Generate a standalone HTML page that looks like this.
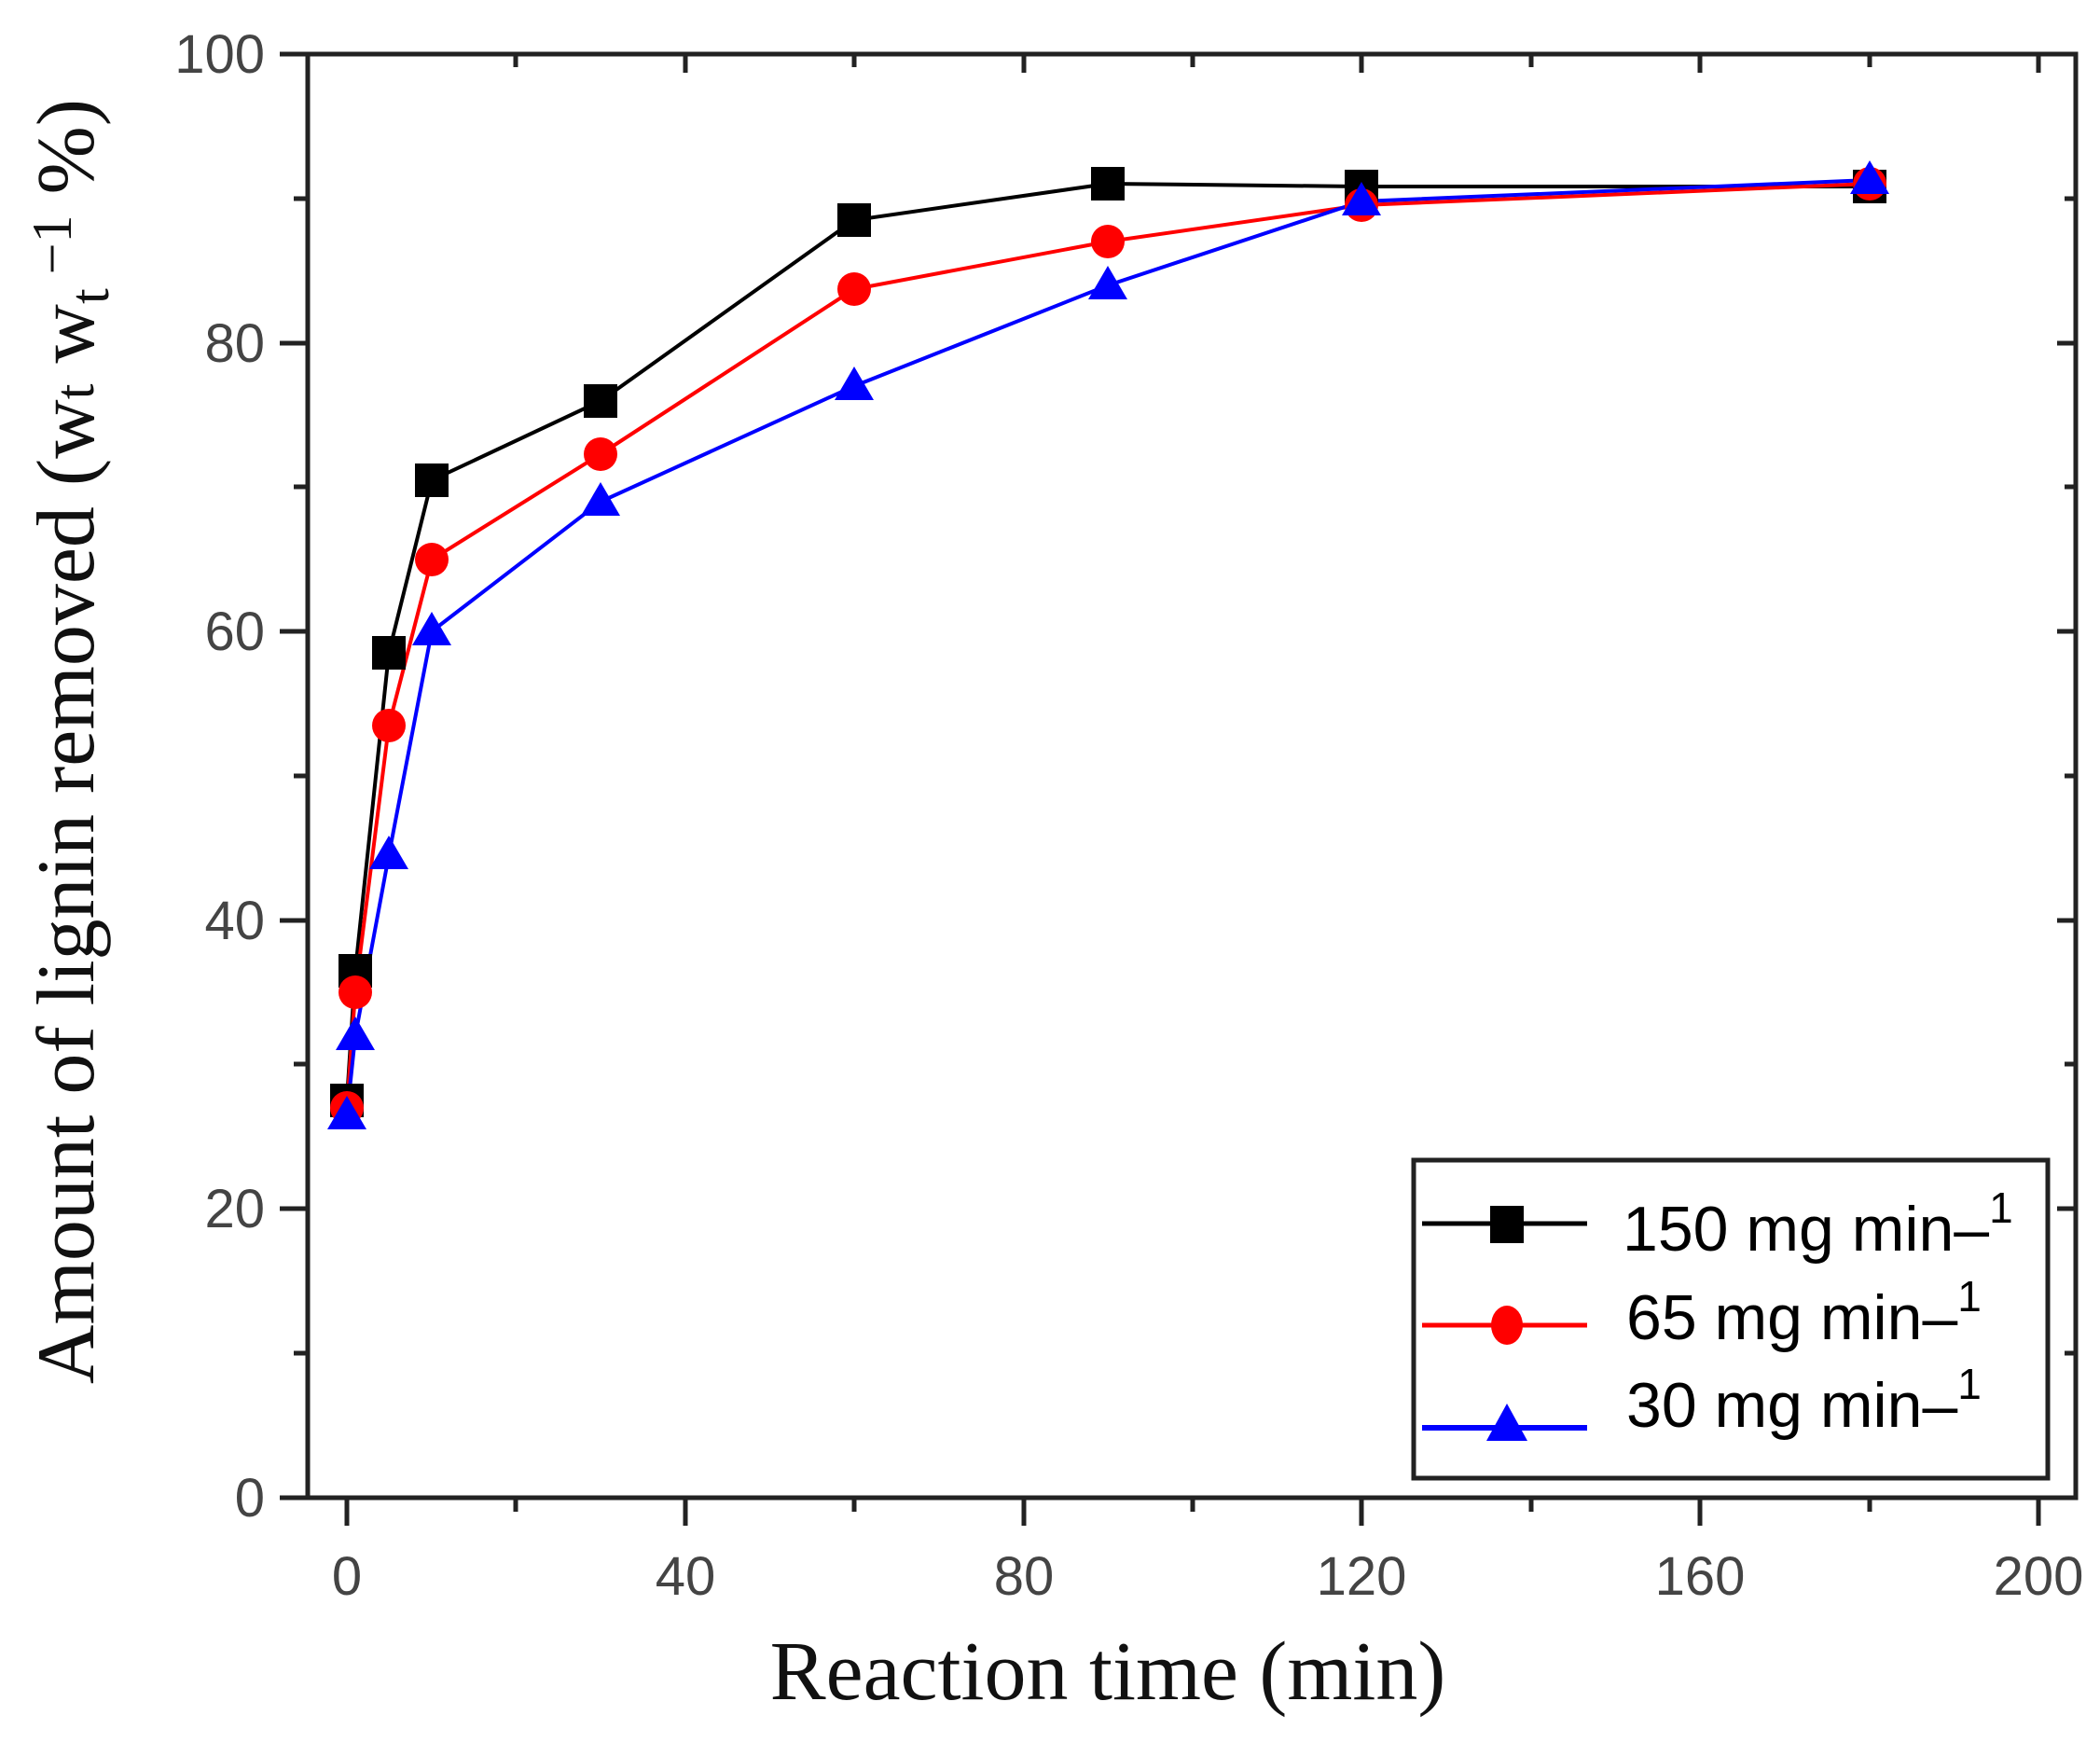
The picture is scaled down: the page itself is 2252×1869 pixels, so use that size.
<!DOCTYPE html>
<html><head><meta charset="utf-8"><style>html,body{margin:0;padding:0;background:#fff}svg{display:block}</style></head>
<body>
<svg width="2252" height="1869" viewBox="0 0 2252 1869" xmlns="http://www.w3.org/2000/svg">
<rect width="2252" height="1869" fill="#fff"/>
<g stroke="#222" stroke-width="5" fill="none">
<rect x="330" y="58" width="1896" height="1548"/>
<path d="M300 58H330M300 368H330M300 677H330M300 987H330M300 1296H330M300 1606H330"/>
<path d="M315 213H330M315 522H330M315 832H330M315 1141H330M315 1451H330"/>
<path d="M2226 368H2206M2226 677H2206M2226 987H2206M2226 1296H2206M2226 213H2214M2226 522H2214M2226 832H2214M2226 1141H2214M2226 1451H2214"/>
<path d="M372 1606V1636M735 1606V1636M1098 1606V1636M1460 1606V1636M1823 1606V1636M2186 1606V1636"/>
<path d="M553 1606V1621M916 1606V1621M1279 1606V1621M1642 1606V1621M2005 1606V1621"/>
<path d="M553 58V72M735 58V78M916 58V72M1098 58V78M1279 58V72M1460 58V78M1642 58V72M1823 58V78M2005 58V72M2186 58V78"/>
</g>
<g font-family="Liberation Sans, sans-serif" font-size="58" fill="#444" text-anchor="end">
<text x="284" y="78">100</text><text x="284" y="388">80</text><text x="284" y="697">60</text><text x="284" y="1007">40</text><text x="284" y="1316">20</text><text x="284" y="1626">0</text>
</g>
<g font-family="Liberation Sans, sans-serif" font-size="58" fill="#444" text-anchor="middle">
<text x="372" y="1710">0</text><text x="735" y="1710">40</text><text x="1098" y="1710">80</text><text x="1460" y="1710">120</text><text x="1823" y="1710">160</text><text x="2186" y="1710">200</text>
</g>
<text x="1188" y="1822" font-family="Liberation Serif, serif" font-size="90" fill="#111" text-anchor="middle">Reaction time (min)</text>
<text transform="translate(100,795) rotate(-90)" font-family="Liberation Serif, serif" font-size="88" fill="#111" text-anchor="middle">Amount of lignin removed (w<tspan font-size="60">t</tspan> w<tspan font-size="60" dy="16">t</tspan><tspan font-size="60" dy="-40"> −1</tspan><tspan dy="24"> %)</tspan></text>
<g fill="none" stroke-width="4">
<polyline stroke="#000" points="372,1180 381,1041 417,700 463,515 644,430 916,236 1188,197 1460,200 2005,200"/>
<polyline stroke="#f00" points="372,1188 381,1064 417,778 463,600 644,487 916,310 1188,259 1460,220 2005,197"/>
<polyline stroke="#00f" points="372,1196 381,1111 417,917 463,677 644,538 916,414 1188,306 1460,216 2005,193"/>
</g>
<g fill="#000">
<rect x="354" y="1162" width="36" height="36"/><rect x="363" y="1023" width="36" height="36"/><rect x="399" y="682" width="36" height="36"/><rect x="445" y="497" width="36" height="36"/><rect x="626" y="412" width="36" height="36"/><rect x="898" y="218" width="36" height="36"/><rect x="1170" y="179" width="36" height="36"/><rect x="1442" y="182" width="36" height="36"/><rect x="1987" y="182" width="36" height="36"/>
</g>
<g fill="#f00">
<circle cx="372" cy="1188" r="18"/><circle cx="381" cy="1064" r="18"/><circle cx="417" cy="778" r="18"/><circle cx="463" cy="600" r="18"/><circle cx="644" cy="487" r="18"/><circle cx="916" cy="310" r="18"/><circle cx="1188" cy="259" r="18"/><circle cx="1460" cy="220" r="18"/><circle cx="2005" cy="197" r="18"/>
</g>
<g fill="#00f">
<path d="M372 1175l21 36h-42z M381 1090l21 36h-42z M417 896l21 36h-42z M463 656l21 36h-42z M644 517l21 36h-42z M916 393l21 36h-42z M1188 285l21 36h-42z M1460 195l21 36h-42z M2005 172l21 36h-42z"/>
</g>
<rect x="1516" y="1244" width="680" height="341" fill="#fff" stroke="#222" stroke-width="5"/>
<line x1="1525" y1="1312" x2="1702" y2="1312" stroke="#000" stroke-width="5"/>
<rect x="1598" y="1293" width="36" height="40" fill="#000"/>
<line x1="1525" y1="1421" x2="1702" y2="1421" stroke="#f00" stroke-width="5"/>
<ellipse cx="1616" cy="1421" rx="17" ry="21" fill="#f00"/>
<line x1="1525" y1="1531" x2="1702" y2="1531" stroke="#00f" stroke-width="6"/>
<path d="M1616 1505l22 40h-44z" fill="#00f"/>
<g font-family="Liberation Sans Narrow, Liberation Sans, sans-serif" font-size="68" fill="#000">
<text x="1740" y="1341">150 mg min–<tspan font-size="46" dy="-30">1</tspan></text>
<text x="1744" y="1436">65 mg min–<tspan font-size="46" dy="-30">1</tspan></text>
<text x="1744" y="1530">30 mg min–<tspan font-size="46" dy="-30">1</tspan></text>
</g>
</svg>
</body></html>
